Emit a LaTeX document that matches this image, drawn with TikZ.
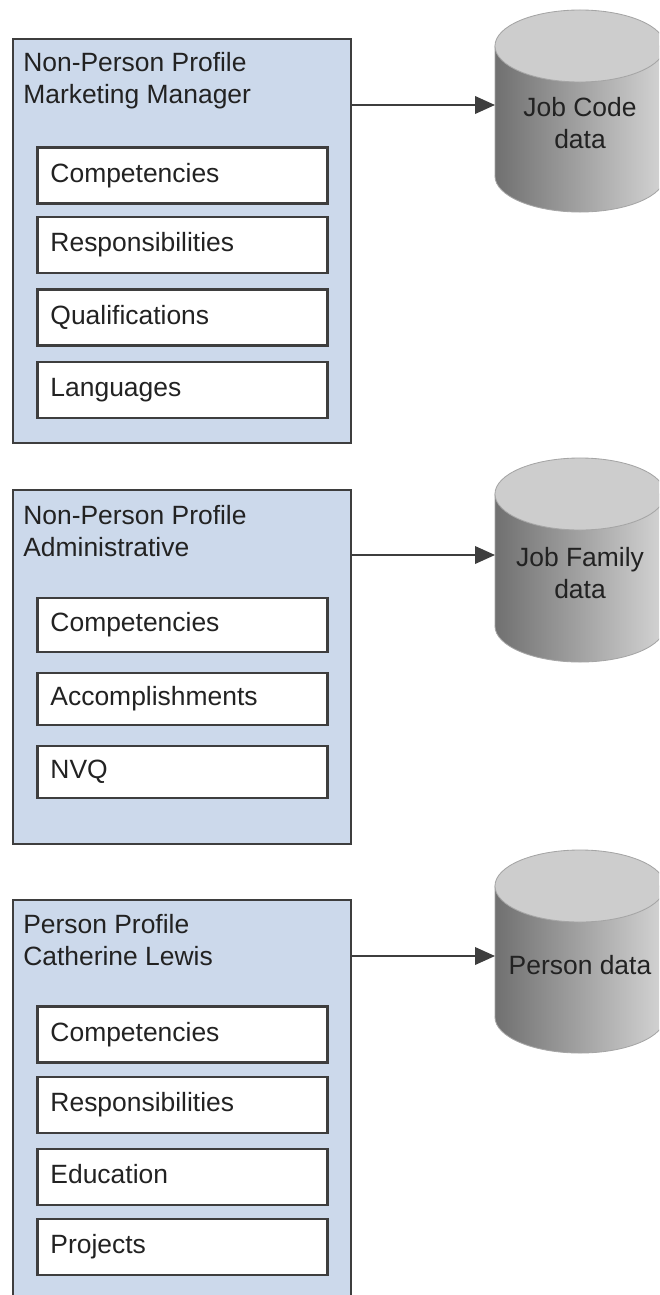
\documentclass[tikz,border=0pt]{standalone}
\usepackage{fontspec}
\setmainfont{Liberation Sans}
\usetikzlibrary{positioning, arrows.meta}
\definecolor{profblue}{RGB}{204,217,235}
\definecolor{edgegray}{RGB}{62,62,62}
\definecolor{dbdark}{RGB}{112,112,112}
\definecolor{dblight}{RGB}{212,212,212}
\definecolor{dbtop}{RGB}{205,205,205}
\definecolor{dbedge}{RGB}{165,165,165}
\definecolor{txtgray}{RGB}{34,34,34}
\newcommand{\Comp}{Competencies}
\newcommand{\Resp}{Responsibilities}
% cylinder body between the two end ellipses (top y, bottom y)
\newcommand{\DbCyl}[2]{%
  \shade[left color=dbdark, right color=dblight, draw=dbedge, line width=0.6pt]
    (495,#2) -- (495,#1) -- (665,#1) -- (665,#2)
    arc[start angle=0, end angle=-180, x radius=2.125cm, y radius=0.9cm] -- cycle;
  \filldraw[fill=dbtop, draw=dbedge, line width=0.6pt] (580,#1) ellipse[x radius=2.125cm, y radius=0.9cm];}

\begin{document}
\begin{tikzpicture}[x=0.025cm, y=-0.025cm, >={Triangle[length=0.5cm,width=0.44cm]},
  font=\fontsize{18.8}{22.8}\selectfont, text=txtgray,
  profile/.style={draw=edgegray, line width=1.4pt, fill=profblue, minimum width=8.45cm, anchor=north west, inner sep=0pt},
  ptitle/.style={anchor=west, align=left, inner sep=0pt},
  item/.style={draw=edgegray, line width=1.5pt, fill=white, minimum width=7.25cm, minimum height=1.4cm,
    text width=6.6cm, inner xsep=0.3cm, text height=0.475cm, text depth=0.13cm, align=left},
  dbtext/.style={align=center, inner sep=0pt, minimum width=4.25cm},
  link/.style={->, draw=edgegray, line width=1.3pt}]
  \clip (0,0) rectangle (659,1295);

  % job code profile
  \node[profile, minimum height=10.1cm] (npmm) at (12,38) {};
  \node[ptitle] (npmmt) at (23,81) {Non-Person Profile\\Marketing Manager};
  \node[item] (mmcomp) at (182.5,175.5) {\Comp};
  \node[item] (mmresp) at (182.5,245)   {\Resp};
  \node[item] (mmqual) at (182.5,317.5) {Qualifications};
  \node[item] (mmlang) at (182.5,390)   {Languages};

  % job family profile
  \node[profile, minimum height=8.85cm] (npad) at (12,489) {};
  \node[ptitle] (npadt) at (23,531) {Non-Person Profile\\Administrative};
  \node[item, minimum height=1.35cm] (adcomp) at (182.5,625) {\Comp};
  \node[item, minimum height=1.28cm] (adacc)  at (182.5,699) {Accomplishments};
  \node[item, minimum height=1.28cm] (adnvq)  at (182.5,772) {NVQ};

  % person profile
  \node[profile, minimum height=10.75cm] (pcl) at (12,899) {};
  \node[ptitle] (pclt) at (23,940.5) {Person Profile\\Catherine Lewis};
  \node[item] (clcomp) at (182.5,1034.5) {\Comp};
  \node[item] (clresp) at (182.5,1105)   {\Resp};
  \node[item] (cledu)  at (182.5,1177)   {Education};
  \node[item] (clproj) at (182.5,1247)   {Projects};

  % data stores
  \DbCyl{46}{176}
  \node[dbtext] (jcdata) at (580,123.5) {Job Code\\data};
  \DbCyl{494}{626}
  \node[dbtext] (jfdata) at (580,573.5) {Job Family\\data};
  \DbCyl{886}{1017}
  \node[dbtext] (psdata) at (580,965) {Person data};

  \coordinate (jcin) at (495,105);
  \coordinate (jfin) at (495,555);
  \coordinate (psin) at (495,956);
  \draw[link] (npmm.east |- jcin) -- (jcin);
  \draw[link] (npad.east |- jfin) -- (jfin);
  \draw[link] (pcl.east |- psin) -- (psin);
\end{tikzpicture}
\end{document}
